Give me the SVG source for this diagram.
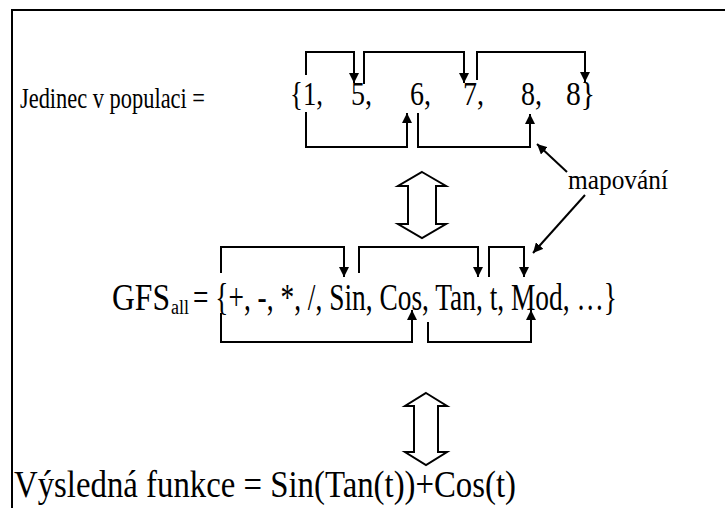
<svg xmlns="http://www.w3.org/2000/svg" width="725" height="508" viewBox="0 0 725 508">
<style>
text{font-family:'Liberation Serif','Times New Roman',serif;fill:#000}
.c{fill:none;stroke:#000;stroke-width:2}
.blk{fill:#fff;stroke:#000;stroke-width:2;stroke-linejoin:miter}
</style>
<defs>
<marker id="ah" viewBox="0 0 10 10" refX="10" refY="5" markerWidth="10" markerHeight="10" markerUnits="userSpaceOnUse" orient="auto">
<path d="M0,0 L10,5 L0,10 Z" fill="#000"/>
</marker>
</defs>
<rect width="725" height="508" fill="#fff"/>
<g id="frame"><path d="M12,508 V10 H725" fill="none" stroke="#000" stroke-width="2"/></g>
<g id="row1-label" font-family="Liberation Serif, serif"><text x="20" y="108" font-size="30" textLength="185" lengthAdjust="spacingAndGlyphs">Jedinec v populaci =</text></g>
<g id="row1-set" font-size="33" font-family="Liberation Serif, serif">
<text x="290" y="105" textLength="33" lengthAdjust="spacingAndGlyphs">{1,</text>
<text x="351" y="105" textLength="21" lengthAdjust="spacingAndGlyphs">5,</text>
<text x="410" y="105" textLength="21" lengthAdjust="spacingAndGlyphs">6,</text>
<text x="463" y="105" textLength="21" lengthAdjust="spacingAndGlyphs">7,</text>
<text x="521" y="105" textLength="21" lengthAdjust="spacingAndGlyphs">8,</text>
<text x="566" y="105" textLength="29" lengthAdjust="spacingAndGlyphs">8}</text>
</g>
<g id="mapovani" font-family="Liberation Serif, serif"><text x="568" y="189" font-size="28" textLength="100" lengthAdjust="spacingAndGlyphs">mapování</text></g>
<g id="row2-set" font-family="Liberation Serif, serif">
<text x="112" y="310" font-size="38" textLength="58" lengthAdjust="spacingAndGlyphs">GFS</text>
<text x="171" y="314" font-size="20" textLength="18" lengthAdjust="spacingAndGlyphs">all</text>
<text x="193" y="310" font-size="38" textLength="424" lengthAdjust="spacingAndGlyphs">= {+, -, *, /, Sin, Cos, Tan, t, Mod, …}</text>
</g>
<g id="result" font-family="Liberation Serif, serif"><text x="14" y="497" font-size="38" textLength="502" lengthAdjust="spacingAndGlyphs">Výsledná funkce = Sin(Tan(t))+Cos(t)</text></g>
<g id="double-arrow-1"><path class="blk" d="M422,172 L446,186 L436,186 L436,224 L446,224 L422,238 L398,224 L408,224 L408,186 L398,186 Z"/></g>
<g id="double-arrow-2"><path class="blk" d="M426,393 L447,406 L438,406 L438,452 L447,452 L426,465 L405,452 L414,452 L414,406 L405,406 Z"/></g>
<g id="connectors">
<path class="c" d="M306,75 V52 H354 V83" marker-end="url(#ah)"/>
<path class="c" d="M364,84 V52 H464 V83" marker-end="url(#ah)"/>
<path class="c" d="M477,80 V52 H585 V82" marker-end="url(#ah)"/>
<path class="c" d="M306,112 V147 H407 V113" marker-end="url(#ah)"/>
<path class="c" d="M418,113 V147 H530 V114" marker-end="url(#ah)"/>
<path class="c" d="M221,273 V247 H344 V277" marker-end="url(#ah)"/>
<path class="c" d="M359,273 V247 H478 V277" marker-end="url(#ah)"/>
<path class="c" d="M489,277 V247 H524 V277" marker-end="url(#ah)"/>
<path class="c" d="M221,313 V342 H412 V310" marker-end="url(#ah)"/>
<path class="c" d="M428,322 V342 H531 V310" marker-end="url(#ah)"/>
<path class="c" d="M567,172 L537,144" marker-end="url(#ah)"/>
<path class="c" d="M585,195 L533,253" marker-end="url(#ah)"/>
</g>
</svg>
